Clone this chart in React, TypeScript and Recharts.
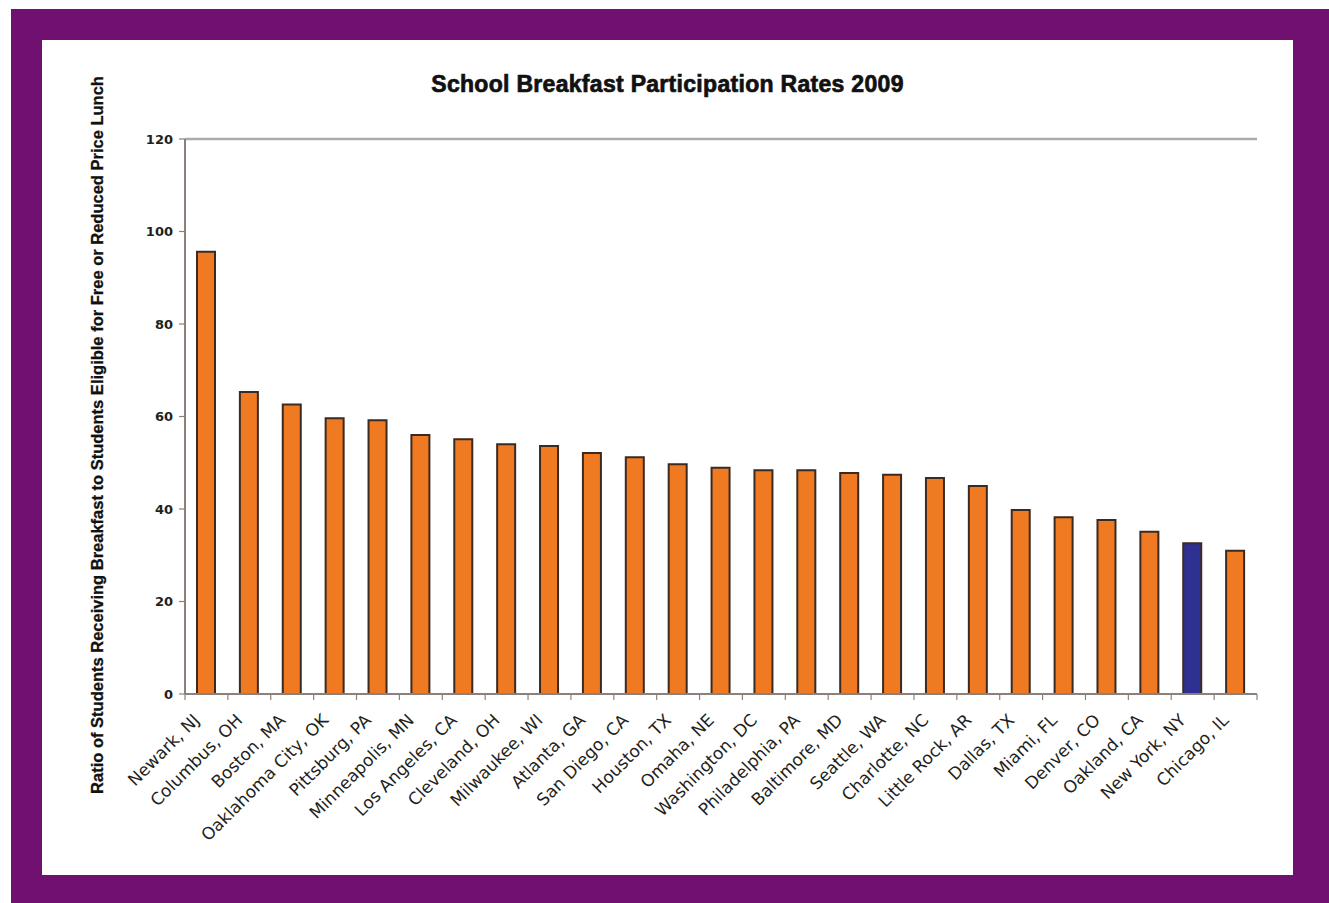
import React from 'react';
import { BarChart, Bar, XAxis, YAxis, Cell, ReferenceLine } from 'recharts';

const cities = [
  'Newark, NJ', 'Columbus, OH', 'Boston, MA', 'Oaklahoma City, OK', 'Pittsburg, PA',
  'Minneapolis, MN', 'Los Angeles, CA', 'Cleveland, OH', 'Milwaukee, WI', 'Atlanta, GA',
  'San Diego, CA', 'Houston, TX', 'Omaha, NE', 'Washington, DC', 'Philadelphia, PA',
  'Baltimore, MD', 'Seattle, WA', 'Charlotte, NC', 'Little Rock, AR', 'Dallas, TX',
  'Miami, FL', 'Denver, CO', 'Oakland, CA', 'New York, NY', 'Chicago, IL',
];
const rates = [
  95.6, 65.3, 62.6, 59.6, 59.2,
  56.0, 55.1, 54.0, 53.6, 52.1,
  51.2, 49.7, 48.9, 48.4, 48.4,
  47.8, 47.4, 46.7, 45.0, 39.8,
  38.2, 37.6, 35.1, 32.6, 31.0,
];
const highlightCity = 'New York, NY';
const yTicks = [0, 20, 40, 60, 80, 100, 120];

const title = 'School Breakfast Participation Rates 2009';
const yLabel = 'Ratio of Students Receiving Breakfast to Students Eligible for Free or Reduced Price Lunch';

const data = cities.map((city, i) => ({ city, rate: rates[i] }));

const ORANGE = '#F07A22';
const BLUE = '#2E3192';
const OUTLINE = '#3b2a22';
const AXIS = '#8b817c';
const FRAME = '#b0aaa7';
const PURPLE = '#701070';

const CityTick = (props: any) => {
  const { x, y, payload, index } = props;
  const half = payload && payload.offset ? payload.offset : 21.44;
  const isLast = index === cities.length - 1;
  return (
    <g>
      <line x1={x - half} x2={x - half} y1={y} y2={y + 6} stroke={AXIS} strokeWidth={1.2} />
      {isLast && <line x1={x + half} x2={x + half} y1={y} y2={y + 6} stroke={AXIS} strokeWidth={1.2} />}
      <g transform={`translate(${x - 10},${y + 23}) rotate(-45)`}>
        <text x={0} y={0} dy="0.35em" textAnchor="end" fontFamily="DejaVu Sans" fontSize={17} fill="#231f20">
          {payload.value}
        </text>
      </g>
    </g>
  );
};

const YLabel = () => (
  <text
    x={97}
    y={435}
    transform="rotate(-90 97 435)"
    textAnchor="middle"
    dominantBaseline="central"
    fontFamily="Liberation Sans"
    fontWeight="bold"
    fontSize={16.5}
    fill="#111"
    stroke="#111"
    strokeWidth={0.3}
  >
    {yLabel}
  </text>
);

export default function App() {
  return (
    <div style={{ position: 'absolute', left: 0, top: 0, width: 1329, height: 903, background: '#fff', overflow: 'hidden' }}>
      <div style={{ position: 'absolute', left: 11, top: 9, right: 0, bottom: 0, background: PURPLE }} />
      <div style={{ position: 'absolute', left: 42, top: 40, width: 1251, height: 835, background: '#fff' }} />
      <div
        style={{
          position: 'absolute',
          left: 42,
          top: 73,
          width: 1251,
          textAlign: 'center',
          fontFamily: '"Liberation Sans", Arial, sans-serif',
          fontWeight: 'bold',
          fontSize: 23,
          lineHeight: '23px',
          letterSpacing: '0.3px',
          color: '#111',
          WebkitTextStroke: '0.7px #111',
        }}
      >
        {title}
      </div>
      <div style={{ position: 'absolute', left: 0, top: 0 }}>
        <BarChart width={1329} height={903} data={data} margin={{ top: 139, right: 72, bottom: 59, left: 125 }}>
          <XAxis
            dataKey="city"
            type="category"
            interval={0}
            height={150}
            tickLine={false}
            tickSize={0}
            tickMargin={0}
            axisLine={{ stroke: AXIS, strokeWidth: 2 }}
            tick={CityTick}
          />
          <YAxis
            yAxisId="l"
            domain={[0, 120]}
            ticks={yTicks}
            interval={0}
            width={60}
            axisLine={{ stroke: AXIS, strokeWidth: 2 }}
            tickLine={{ stroke: AXIS, strokeWidth: 1.2 }}
            tickSize={6}
            tickMargin={6}
            tick={{ fontFamily: 'DejaVu Sans', fontWeight: 'bold', fontSize: 13, fill: '#231f20' }}
            label={<YLabel />}
          />
          <YAxis
            yAxisId="r"
            orientation="right"
            domain={[0, 120]}
            width={0}
            tick={false}
            tickLine={false}
            axisLine={{ stroke: FRAME, strokeWidth: 2.5 }}
          />
          <ReferenceLine yAxisId="l" y={120} stroke={FRAME} strokeWidth={2.5} />
          <Bar
            dataKey="rate"
            yAxisId="l"
            barSize={18}
            stroke={OUTLINE}
            strokeWidth={2}
            isAnimationActive={false}
          >
            {data.map((d) => (
              <Cell key={d.city} fill={d.city === highlightCity ? BLUE : ORANGE} />
            ))}
          </Bar>
        </BarChart>
      </div>
    </div>
  );
}
